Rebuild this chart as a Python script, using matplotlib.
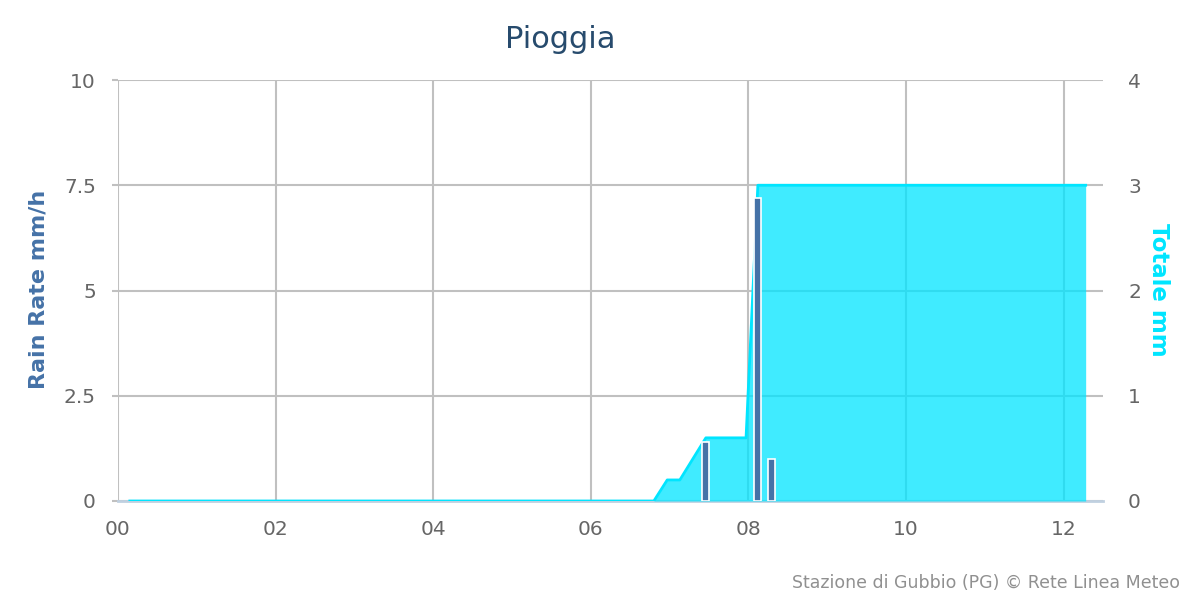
import matplotlib
matplotlib.use("Agg")
import matplotlib.pyplot as plt

# ---- data (hours since 00:00) ----
total_hours = [0.15, 6.80, 6.97, 7.13, 7.46, 7.97, 8.12, 12.28]
total_mm = [0.0, 0.0, 0.2, 0.2, 0.6, 0.6, 3.0, 3.0]

rate_hours = [7.46, 8.12, 8.29]
rate_mmh = [1.4, 7.2, 1.0]

x_ticks = [0, 2, 4, 6, 8, 10, 12]
x_labels = ["00", "02", "04", "06", "08", "10", "12"]
left_ticks = [0, 2.5, 5, 7.5, 10]
left_labels = ["0", "2.5", "5", "7.5", "10"]
right_ticks = [0, 1, 2, 3, 4]
right_labels = ["0", "1", "2", "3", "4"]

title = "Pioggia"
left_title = "Rain Rate mm/h"
right_title = "Totale mm"
credits = "Stazione di Gubbio (PG) © Rete Linea Meteo"

grid_c = "#C0C0C0"
tick_c = "#666666"
bar_c = "#4572A7"
cyan = "#00E5FF"

plt.rcParams["font.family"] = ["DejaVu Sans"]

fig = plt.figure(figsize=(12, 6), dpi=100)
ax = fig.add_axes([118/1200, 1-501/600, (1103-118)/1200, (501-80)/600])
ax2 = ax.twinx()
ax3 = ax.twinx()

ax.set_xlim(0, 12.5)
ax.set_ylim(0, 10)
ax2.set_ylim(0, 4)
ax3.set_ylim(0, 10)

# grid on base axes
ax.set_xticks(x_ticks)
ax.set_xticklabels(x_labels)
ax.set_yticks(left_ticks)
ax.set_yticklabels(left_labels)
ax.grid(True, color=grid_c, linewidth=1.5, zorder=0)
ax.set_axisbelow(True)
for s in ["top", "right", "left"]:
    ax.spines[s].set_visible(False)
ax.spines["bottom"].set_color("#C0D0E0")
ax.spines["bottom"].set_linewidth(2)
ax.tick_params(axis="x", length=0, pad=14, labelsize=14.5, labelcolor=tick_c)
ax.tick_params(axis="y", length=4, width=1.5, color=grid_c, pad=12, labelsize=14.5, labelcolor=tick_c)

# cumulative total area
ax2.fill_between(total_hours, total_mm, 0, color=cyan, alpha=0.75, linewidth=0)
ax2.plot(total_hours, total_mm, color=cyan, linewidth=2)
ax2.set_yticks(right_ticks)
ax2.set_yticklabels(right_labels)
for s in ax2.spines.values():
    s.set_visible(False)
ax2.tick_params(axis="y", length=0, pad=18, labelsize=14.5, labelcolor=tick_c)

# rain rate bars
ax3.bar(rate_hours, rate_mmh, width=0.09, color=bar_c, edgecolor="white", linewidth=1.2)
ax3.yaxis.set_visible(False)
for s in ax3.spines.values():
    s.set_visible(False)

ax.set_xlim(0, 12.5)

fig.text(560/1200, 1-40/600, title, ha="center", va="center", fontsize=22, color="#274B6D")
fig.text(39/1200, 1-289/600, left_title, ha="center", va="center", rotation=90,
         fontsize=16, fontweight="bold", color=bar_c)
fig.text(1158/1200, 1-290/600, right_title, ha="center", va="center", rotation=-90,
         fontsize=16.5, fontweight="bold", color=cyan)
fig.text(1180/1200, 1-583/600, credits, ha="right", va="center", fontsize=12.5, color="#909090")

fig.savefig("out.png", dpi=100)
